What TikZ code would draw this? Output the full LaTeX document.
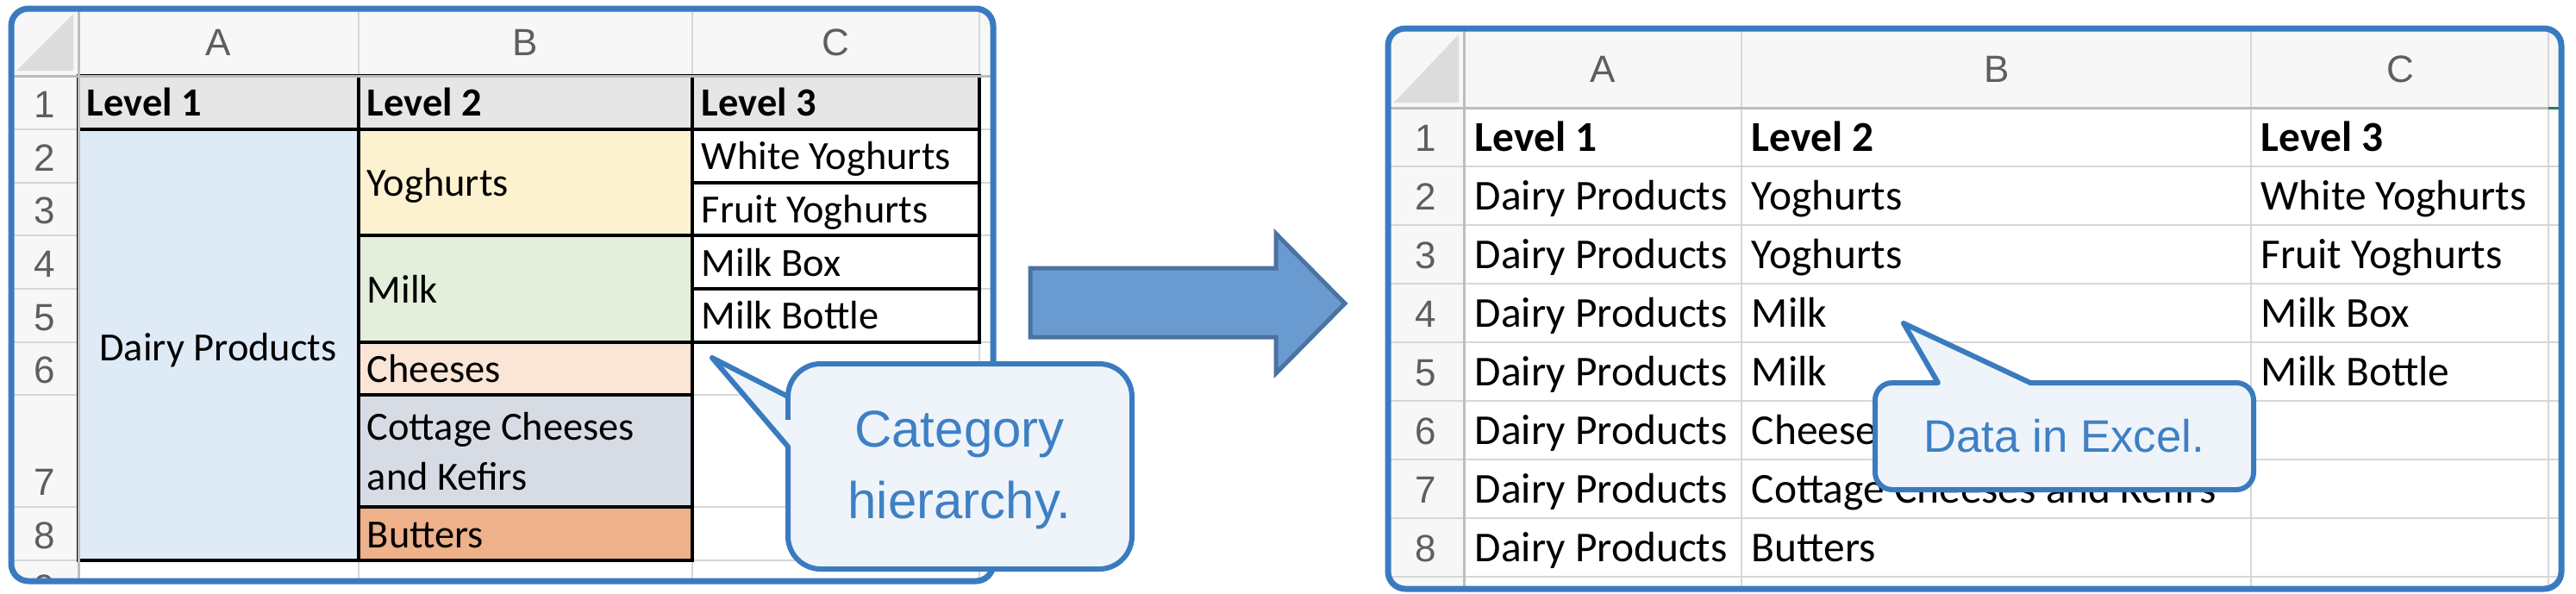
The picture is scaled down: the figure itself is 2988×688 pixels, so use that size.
\documentclass[tikz,border=0pt]{standalone}
\usepackage{fontspec}
\setmainfont{Carlito}
\newfontfamily\hdrfont{Liberation Sans}
\newfontfamily\callfont{Liberation Sans}
\definecolor{frameblue}{HTML}{3A7BBF}
\definecolor{gridgrey}{HTML}{D6D6D6}
\definecolor{sepgrey}{HTML}{BDBDBD}
\definecolor{hdrfill}{HTML}{F7F7F7}
\definecolor{cornertri}{HTML}{DCDCDC}
\definecolor{hdrtext}{HTML}{5E5E5E}
\definecolor{lvlfill}{HTML}{E7E6E6}
\definecolor{dairyfill}{HTML}{DEEAF6}
\definecolor{yogfill}{HTML}{FDF2CF}
\definecolor{milkfill}{HTML}{E3EFDA}
\definecolor{cheesefill}{HTML}{FAE5D7}
\definecolor{cottfill}{HTML}{D7DCE4}
\definecolor{butfill}{HTML}{EEB189}
\definecolor{callblue}{HTML}{3A7BBF}
\definecolor{callfill}{HTML}{EEF4FA}
\definecolor{calltxt}{HTML}{3E80C4}
\definecolor{arrowfill}{HTML}{6A9BD0}
\definecolor{arrowedge}{HTML}{4B73A1}
\definecolor{selgreen}{HTML}{2E7D4F}
\begin{document}
\begin{tikzpicture}[x=0.25pt,y=-0.25pt,
  frame/.style={draw=frameblue, line width=1.75pt, rounded corners=5pt},
  grid/.style={draw=gridgrey, line width=0.5pt},
  hsep/.style={draw=sepgrey, line width=0.75pt},
  cellb/.style={draw=black, line width=0.8pt},
  lcell/.style={anchor=base west, inner sep=0pt, font=\fontsize{11.6}{14}\selectfont},
  lbold/.style={lcell, font=\fontsize{11.6}{14}\selectfont\bfseries},
  rcell/.style={anchor=base west, inner sep=0pt, font=\fontsize{12.35}{15}\selectfont},
  rbold/.style={rcell, font=\fontsize{12.35}{15}\selectfont\bfseries},
  hdr/.style={anchor=base, inner sep=0pt, text=hdrtext, font=\hdrfont\fontsize{11}{13}\selectfont},
  callout/.style={draw=callblue, fill=callfill, line width=1.5pt, line join=round},
  callstub/.style={draw=callblue, line width=1.5pt},
  calltext/.style={anchor=base, text=calltxt, inner sep=0pt, font=\callfont\fontsize{15}{18}\selectfont},
  calltextb/.style={text=calltxt, inner sep=0pt, font=\callfont\fontsize{13.2}{16}\selectfont},
  blockarrow/.style={fill=arrowfill, draw=arrowedge, line width=1.25pt, line join=miter}
]
\useasboundingbox (0,0) rectangle (2988,688);

% ---------------- Left panel ----------------
\begin{scope}
\clip[rounded corners=5pt] (13,10) rectangle (1152,674);
\fill[white] (13,10) rectangle (1152,674);
\fill[hdrfill] (13,10) rectangle (1152,88);
\fill[hdrfill] (13,88) rectangle (91,674);
\foreach \y in {150,212,273,335,397,458,588,650} \draw[grid] (13,\y) -- (1152,\y);
\foreach \x in {416,803,1136} \draw[grid] (\x,10) -- (\x,674);
\fill[lvlfill] (91,88) rectangle (1136,150);
\fill[dairyfill] (91,150) rectangle (416,650);
\fill[yogfill] (416,150) rectangle (803,273);
\fill[milkfill] (416,273) rectangle (803,397);
\fill[cheesefill] (416,397) rectangle (803,458);
\fill[cottfill] (416,458) rectangle (803,588);
\fill[butfill] (416,588) rectangle (803,650);
\fill[white] (803,150) rectangle (1136,397);
\draw[cellb] (91,88) rectangle (416,150) (416,88) rectangle (803,150) (803,88) rectangle (1136,150);
\draw[cellb] (91,150) rectangle (416,650);
\draw[cellb] (416,150) rectangle (803,273) (416,273) rectangle (803,397) (416,397) rectangle (803,458) (416,458) rectangle (803,588) (416,588) rectangle (803,650);
\draw[cellb] (803,150) rectangle (1136,212) (803,212) rectangle (1136,273) (803,273) rectangle (1136,335) (803,335) rectangle (1136,397);
\draw[hsep] (13,88) -- (1152,88);
\draw[hsep] (91,10) -- (91,674);
\fill[cornertri] (19,82) -- (85,82) -- (85,16) -- cycle;
\node[hdr] (lhA) at (253,64) {A};
\node[hdr] (lhB) at (609,64) {B};
\node[hdr] (lhC) at (969,64) {C};
\foreach \n/\b in {1/136,2/198,3/259,4/321,5/383,6/444,7/574,8/636,9/697}
  \node[hdr] (ln\n) at (52,\b) {\n};
\node[lbold] (lL1) at (100,134) {Level 1};
\node[lbold] (lL2) at (425,134) {Level 2};
\node[lbold] (lL3) at (813,134) {Level 3};
\node[lcell, anchor=base] (ldairy) at (253,418) {Dairy Products};
\node[lcell] (lyog) at (425,227) {Yoghurts};
\node[lcell] (lmilk) at (425,351) {Milk};
\node[lcell] (lchee) at (425,443) {Cheeses};
\node[lcell] (lcot1) at (425,510) {Cottage Cheeses};
\node[lcell] (lcot2) at (425,568) {and Kefirs};
\node[lcell] (lbut) at (425,635) {Butters};
\node[lcell] (lwy) at (813,196) {White Yoghurts};
\node[lcell] (lfy) at (813,258) {Fruit Yoghurts};
\node[lcell] (lmbx) at (813,320) {Milk Box};
\node[lcell] (lmbt) at (813,381) {Milk Bottle};
\end{scope}
\draw[frame] (13,10) rectangle (1152,674);

% ---------------- Arrow ----------------
\draw[blockarrow] (1195,311) -- (1480,311) -- (1480,271) -- (1560,352) -- (1480,433) -- (1480,391) -- (1195,391) -- cycle;

% ---------------- Right panel ----------------
\begin{scope}
\clip[rounded corners=5pt] (1610,33) rectangle (2971,683);
\fill[white] (1610,33) rectangle (2971,683);
\fill[hdrfill] (1610,33) rectangle (2971,125);
\fill[hdrfill] (1610,125) rectangle (1698,683);
\foreach \y in {193,261,329,397,465,533,601,669} \draw[grid] (1610,\y) -- (2971,\y);
\foreach \x in {2020,2611,2956} \draw[grid] (\x,33) -- (\x,683);
\draw[hsep] (1610,125) -- (2971,125);
\draw[hsep] (1698,33) -- (1698,683);
\draw[selgreen, line width=0.75pt] (2956,125) -- (2971,125);
\fill[cornertri] (1617,119) -- (1692,119) -- (1692,40) -- cycle;
\node[hdr] (rhA) at (1859,95) {A};
\node[hdr] (rhB) at (2316,95) {B};
\node[hdr] (rhC) at (2784,95) {C};
\foreach \n/\b in {1/175,2/243,3/311,4/379,5/447,6/515,7/583,8/651}
  \node[hdr] (rn\n) at (1654,\b) {\n};
\node[rbold] (rL1) at (1710,175) {Level 1};
\node[rbold] (rL2) at (2031,175) {Level 2};
\node[rbold] (rL3) at (2622,175) {Level 3};
\foreach \n/\b in {2/243,3/311,4/379,5/447,6/515,7/583,8/651}
  \node[rcell] (rA\n) at (1710,\b) {Dairy Products};
\node[rcell] (rB2) at (2031,243) {Yoghurts};
\node[rcell] (rB3) at (2031,311) {Yoghurts};
\node[rcell] (rB4) at (2031,379) {Milk};
\node[rcell] (rB5) at (2031,447) {Milk};
\node[rcell] (rB6) at (2031,515) {Cheeses};
\node[rcell] (rB7) at (2031,583) {Cottage Cheeses and Kefirs};
\node[rcell] (rB8) at (2031,651) {Butters};
\node[rcell] (rC2) at (2622,243) {White Yoghurts};
\node[rcell] (rC3) at (2622,311) {Fruit Yoghurts};
\node[rcell] (rC4) at (2622,379) {Milk Box};
\node[rcell] (rC5) at (2622,447) {Milk Bottle};
\end{scope}
\draw[frame] (1610,33) rectangle (2971,683);

% ---------------- Callout 1 ----------------
\draw[callout] (914,518) -- (914,622) arc[start angle=180, end angle=90, radius=38]
  -- (1275,660) arc[start angle=90, end angle=0, radius=38]
  -- (1313,460) arc[start angle=0, end angle=-90, radius=38]
  -- (952,422) arc[start angle=-90, end angle=-180, radius=38]
  -- (826,415) -- cycle;
\draw[callstub] (914,460) -- (914,487);
\node[calltext] (cat1) at (1113,518) {Category};
\node[calltext] (cat2) at (1113,601) {hierarchy.};

% ---------------- Callout 2 ----------------
\draw[callout] (2355,444) -- (2594,444) arc[start angle=-90, end angle=0, radius=20]
  -- (2614,548) arc[start angle=0, end angle=90, radius=20]
  -- (2195,568) arc[start angle=90, end angle=180, radius=20]
  -- (2175,464) arc[start angle=180, end angle=270, radius=20]
  -- (2248,444) -- (2208,375) -- cycle;
\node[calltextb] (dat) at (2394,506) {Data in Excel.};
\end{tikzpicture}
\end{document}
